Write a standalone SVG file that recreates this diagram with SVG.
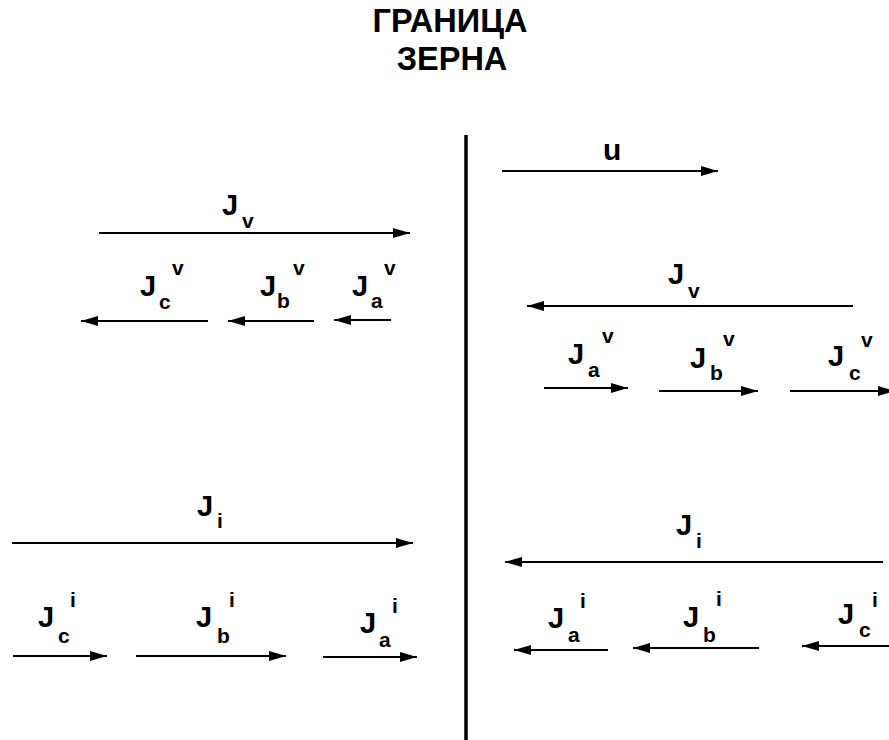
<svg xmlns="http://www.w3.org/2000/svg" width="889" height="740" viewBox="0 0 889 740">
<style>
text{font-family:"Liberation Sans",Arial,sans-serif;font-weight:bold;fill:#000}
.t{font-size:32.5px;text-anchor:middle}
.J{font-size:29px}
.s{font-size:21px}
.u{font-size:30px}
.a{stroke:#000;stroke-width:2;fill:none;marker-end:url(#ah)}
</style>
<defs>
<marker id="ah" markerUnits="userSpaceOnUse" markerWidth="17" markerHeight="11" refX="17" refY="5.5" orient="auto">
<path d="M0,0.5 L17,5.5 L0,10.5 z" fill="#000"/>
</marker>
</defs>
<rect width="889" height="740" fill="#fff"/>
<g id="title">
<text class="t" x="450" y="32">ГРАНИЦА</text>
<text class="t" x="452" y="70">ЗЕРНА</text>
</g>
<g id="boundary">
<line x1="466" y1="135" x2="466" y2="740" stroke="#000" stroke-width="3.5"/>
</g>
<g id="connectors">
<line class="a" x1="99" y1="233" x2="410" y2="233"/>
<line class="a" x1="208" y1="321" x2="81" y2="321"/>
<line class="a" x1="314" y1="321" x2="228" y2="321"/>
<line class="a" x1="391" y1="320" x2="334" y2="320"/>
<line class="a" x1="502" y1="171" x2="718" y2="171"/>
<line class="a" x1="853" y1="306" x2="527" y2="306"/>
<line class="a" x1="544" y1="388" x2="628" y2="388"/>
<line class="a" x1="659" y1="391" x2="758" y2="391"/>
<line class="a" x1="790" y1="391" x2="895" y2="391"/>
<line class="a" x1="12" y1="543" x2="413" y2="543"/>
<line class="a" x1="13" y1="656" x2="107" y2="656"/>
<line class="a" x1="136" y1="656" x2="286" y2="656"/>
<line class="a" x1="323" y1="657" x2="417" y2="657"/>
<line class="a" x1="883" y1="562" x2="505" y2="562"/>
<line class="a" x1="608" y1="650" x2="514" y2="650"/>
<line class="a" x1="759" y1="648" x2="633" y2="648"/>
<line class="a" x1="889" y1="646" x2="802" y2="646"/>
</g>
<g id="left-Jv"><text class="J" x="222" y="215">J</text><text class="s" x="242" y="228">v</text></g>
<g id="left-Jcv"><text class="J" x="140" y="296">J</text><text class="s" x="159" y="309">c</text><text class="s" x="172" y="275">v</text></g>
<g id="left-Jbv"><text class="J" x="260" y="296">J</text><text class="s" x="277" y="308">b</text><text class="s" x="293" y="275">v</text></g>
<g id="left-Jav"><text class="J" x="352" y="296">J</text><text class="s" x="371" y="308">a</text><text class="s" x="384" y="275">v</text></g>
<g id="right-u"><text class="u" x="603" y="160">u</text></g>
<g id="right-Jv"><text class="J" x="668" y="284">J</text><text class="s" x="688" y="298">v</text></g>
<g id="right-Jav"><text class="J" x="568" y="364">J</text><text class="s" x="588" y="377">a</text><text class="s" x="602" y="343">v</text></g>
<g id="right-Jbv"><text class="J" x="690" y="368">J</text><text class="s" x="710" y="380">b</text><text class="s" x="723" y="346">v</text></g>
<g id="right-Jcv"><text class="J" x="828" y="366">J</text><text class="s" x="849" y="380">c</text><text class="s" x="861" y="347">v</text></g>
<g id="left-Ji"><text class="J" x="197" y="516">J</text><text class="s" x="217" y="528">i</text></g>
<g id="left-Jci"><text class="J" x="38" y="627">J</text><text class="s" x="58" y="643">c</text><text class="s" x="70" y="607">i</text></g>
<g id="left-Jbi"><text class="J" x="196" y="627">J</text><text class="s" x="217" y="643">b</text><text class="s" x="229" y="607">i</text></g>
<g id="left-Jai"><text class="J" x="360" y="633">J</text><text class="s" x="379" y="647">a</text><text class="s" x="392" y="613">i</text></g>
<g id="right-Ji"><text class="J" x="676" y="535">J</text><text class="s" x="696" y="548">i</text></g>
<g id="right-Jai"><text class="J" x="548" y="628">J</text><text class="s" x="568" y="642">a</text><text class="s" x="580" y="608">i</text></g>
<g id="right-Jbi"><text class="J" x="683" y="627">J</text><text class="s" x="703" y="642">b</text><text class="s" x="716" y="606">i</text></g>
<g id="right-Jci"><text class="J" x="838" y="624">J</text><text class="s" x="859" y="637">c</text><text class="s" x="872" y="607">i</text></g>
</svg>
